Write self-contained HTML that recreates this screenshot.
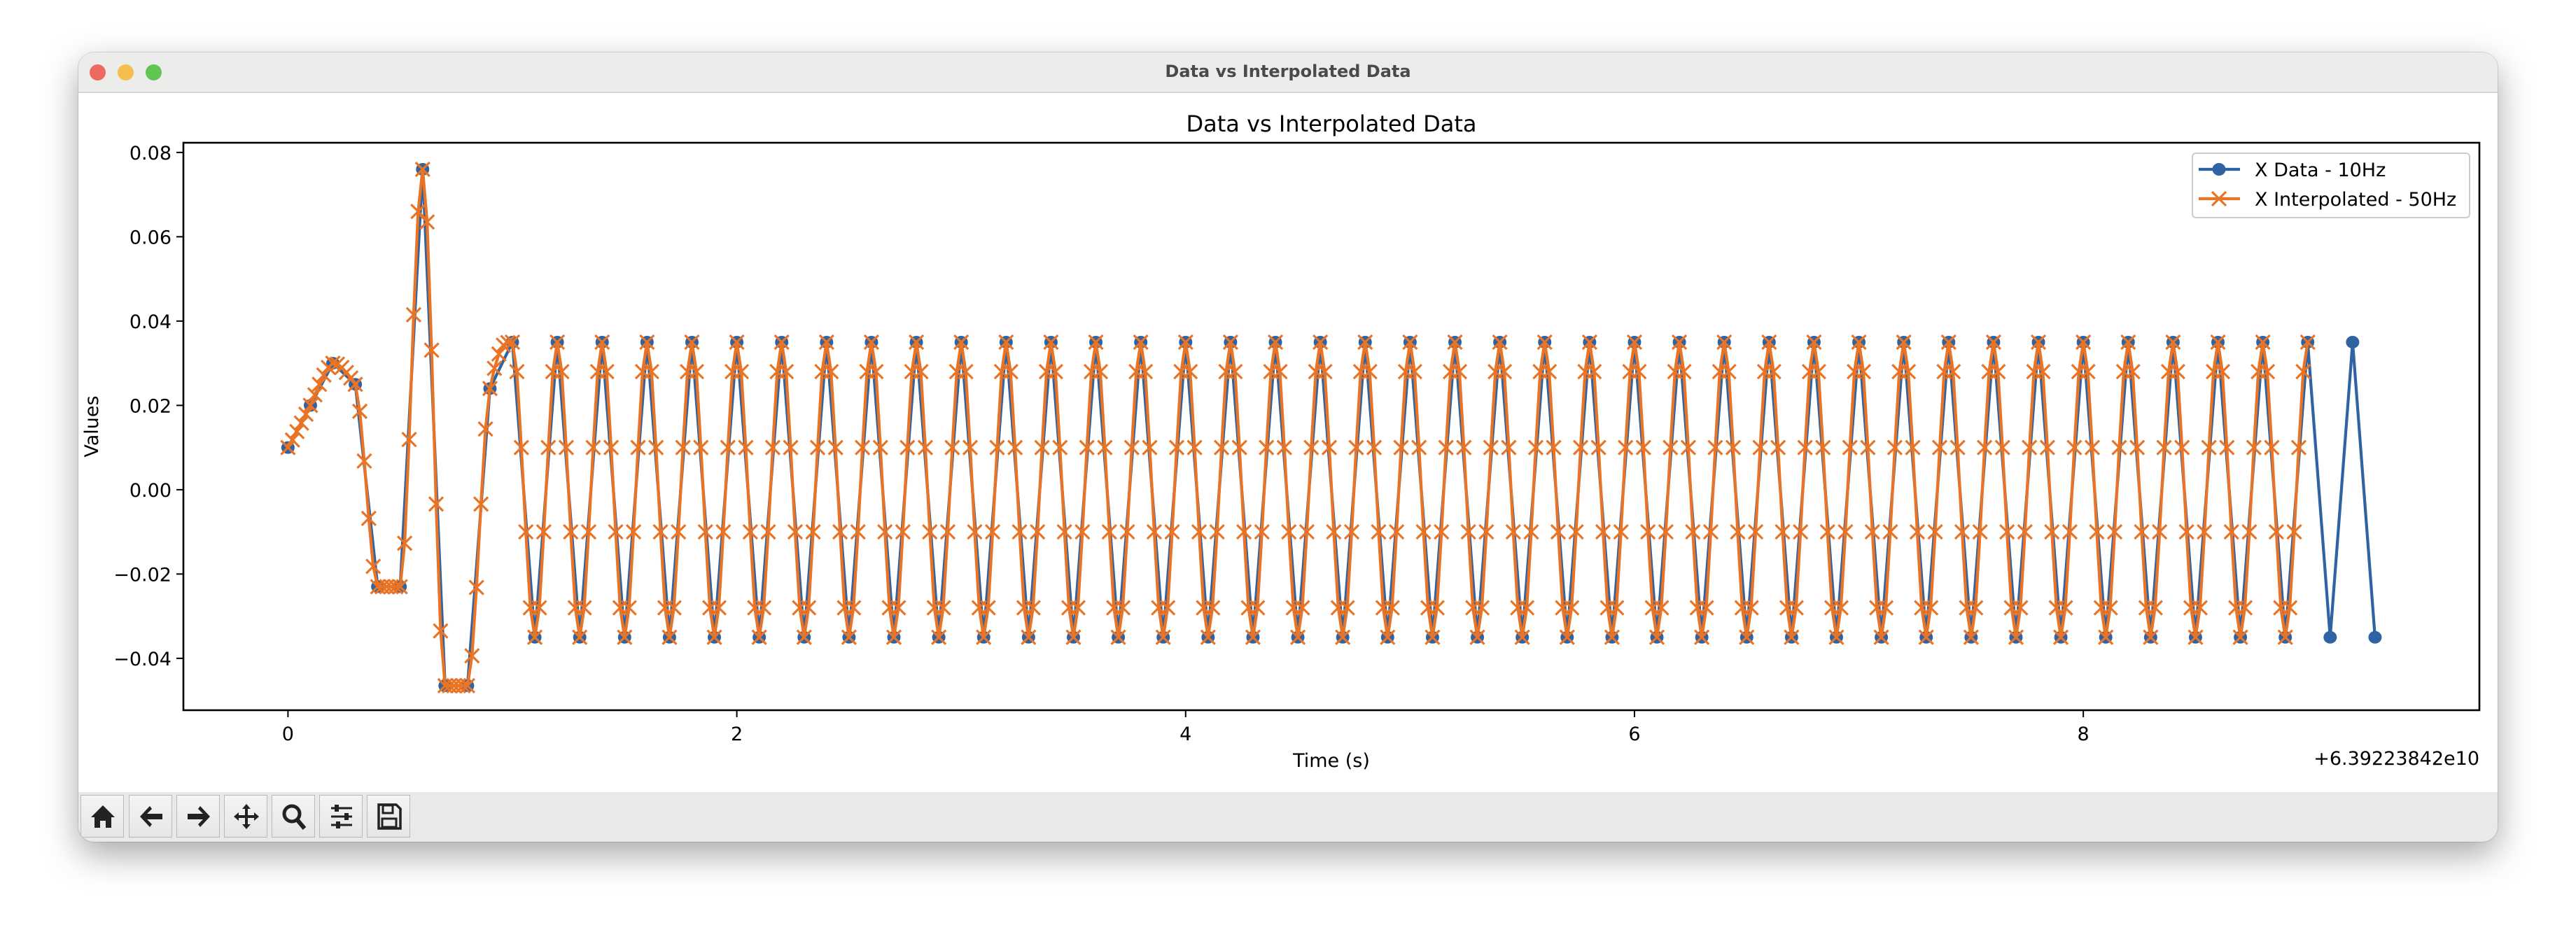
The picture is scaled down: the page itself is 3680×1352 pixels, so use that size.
<!DOCTYPE html>
<html><head><meta charset="utf-8">
<style>
html,body{margin:0;padding:0;width:3680px;height:1352px;background:#fff;overflow:hidden;font-family:"DejaVu Sans","Liberation Sans",sans-serif;}
#win{position:absolute;left:112px;top:75px;width:3456px;height:1128px;border-radius:22px;background:#fff;overflow:hidden;box-shadow:0 18px 50px rgba(0,0,0,0.35),0 0 0 1px rgba(0,0,0,0.12);}
#titlebar{position:absolute;left:0;top:0;width:100%;height:56px;background:#ececea;border-bottom:2px solid #d6d6d6;}
.light{position:absolute;top:17px;width:23px;height:23px;border-radius:50%;}
#wtitle{position:absolute;left:0;width:100%;top:13px;text-align:center;font:bold 24px "DejaVu Sans","Liberation Sans",sans-serif;color:#4a4a4a;}
#toolbar{position:absolute;left:0;top:1057px;width:100%;height:71px;background:#e9e9e7;}
.btn{position:absolute;top:4px;width:62px;height:61px;border:1px solid #b9b9b9;background:linear-gradient(#f4f4f4,#e6e6e6);box-sizing:border-box;}
.btn svg{position:absolute;left:11px;top:10px;}
svg text{font-family:"DejaVu Sans","Liberation Sans",sans-serif;}
</style></head><body>
<div id="win">
  <div id="titlebar">
    <div class="light" style="left:16px;background:#ec6a5e"></div>
    <div class="light" style="left:56px;background:#f4bf4f"></div>
    <div class="light" style="left:96px;background:#61c554"></div>
    <div id="wtitle">Data vs Interpolated Data</div>
  </div>
  <div id="toolbar">
    <div class="btn" style="left:3px"><svg width="40" height="40" viewBox="0 0 40 40"><path d="M20 4 L37 21 L32 21 L32 36 L24 36 L24 26 L16 26 L16 36 L8 36 L8 21 L3 21 Z" fill="#222"/></svg></div>
    <div class="btn" style="left:72px"><svg width="40" height="40" viewBox="0 0 40 40"><path d="M4 20 L18 5 L21 9 L14 16 L36 16 L36 24 L14 24 L21 31 L18 35 Z" fill="#222"/></svg></div>
    <div class="btn" style="left:140px"><svg width="40" height="40" viewBox="0 0 40 40"><path d="M36 20 L22 5 L19 9 L26 16 L4 16 L4 24 L26 24 L19 31 L22 35 Z" fill="#222"/></svg></div>
    <div class="btn" style="left:208px"><svg width="40" height="40" viewBox="0 0 40 40"><path d="M20 2 L26 9 L22 9 L22 18 L31 18 L31 14 L38 20 L31 26 L31 22 L22 22 L22 31 L26 31 L20 38 L14 31 L18 31 L18 22 L9 22 L9 26 L2 20 L9 14 L9 18 L18 18 L18 9 L14 9 Z" fill="#222"/></svg></div>
    <div class="btn" style="left:276px"><svg width="40" height="40" viewBox="0 0 40 40"><circle cx="17" cy="16" r="11" fill="none" stroke="#222" stroke-width="5"/><path d="M24 24 L35 37" stroke="#222" stroke-width="6"/></svg></div>
    <div class="btn" style="left:344px"><svg width="40" height="40" viewBox="0 0 40 40"><path d="M5 8H35M5 20H35M5 32H35" stroke="#222" stroke-width="3"/><rect x="10" y="3" width="6" height="10" fill="#222"/><rect x="24" y="15" width="6" height="10" fill="#222"/><rect x="12" y="27" width="6" height="10" fill="#222"/></svg></div>
    <div class="btn" style="left:412px"><svg width="40" height="40" viewBox="0 0 40 40"><path d="M5 3 H30 L36 9 V37 H5 Z" fill="none" stroke="#222" stroke-width="3.5"/><rect x="11" y="4" width="14" height="11" fill="none" stroke="#222" stroke-width="3"/><rect x="10" y="23" width="20" height="12" fill="none" stroke="#222" stroke-width="3"/></svg></div>
  </div>
</div>
<svg id="chart" width="3680" height="1352" style="position:absolute;left:0;top:0"></svg>
<script>
// 10 Hz data: transient section then a repeating +/- oscillation
const dataStart = 0, dataStep = 0.1;
const dataTransient = [0.010,0.020,0.030,0.025,-0.023,-0.023,0.076,-0.0465,-0.0465,0.024];
const dataCycle = [0.035,-0.035];
const dataCycleCount = 42;
// 50 Hz interpolated: transient section then one read period repeated
const interpStart = 0, interpStep = 0.02;
const interpTransient = [
0.0100,0.0118,0.0138,0.0158,0.0179,0.0200,0.0225,0.0250,0.0272,0.0290,
0.0300,0.0298,0.0290,0.0278,0.0265,0.0250,0.0186,0.0068,-0.0068,-0.0182,
-0.0230,-0.0230,-0.0230,-0.0230,-0.0230,-0.0230,-0.0127,0.0119,0.0415,0.0660,
0.0760,0.0635,0.0331,-0.0034,-0.0335,-0.0465,-0.0465,-0.0465,-0.0465,-0.0465,
-0.0465,-0.0394,-0.0232,-0.0034,0.0144,0.0240,0.0288,0.0322,0.0343,0.0349];
const interpCycle = [0.035,0.028,0.010,-0.010,-0.028,-0.035,-0.028,-0.010,0.010,0.028];
const interpCycleCount = 40;
const interpLast = [0.035];
const xTicks = [0,2,4,6,8];
const xTickLabels = ["0","2","4","6","8"];
const yTicks = [-0.04,-0.02,0,0.02,0.04,0.06,0.08];
const yTickLabels = ["\u22120.04","\u22120.02","0.00","0.02","0.04","0.06","0.08"];
const seriesNames = ["X Data - 10Hz","X Interpolated - 50Hz"];

const dataX = dataTransient.slice();
for(let k=0;k<dataCycleCount;k++) dataX.push(...dataCycle);
const interpX = interpTransient.slice();
for(let k=0;k<interpCycleCount;k++) interpX.push(...interpCycle);
interpX.push(...interpLast);

const NS="http://www.w3.org/2000/svg";
const svg=document.getElementById('chart');
const L=262,R=3542,T=204,B=1015;
const xmin=-0.466,xmax=9.765,ymin=-0.0523,ymax=0.0823;
const sx=v=>L+(v-xmin)/(xmax-xmin)*(R-L);
const sy=v=>B-(v-ymin)/(ymax-ymin)*(B-T);
const BLUE="#2f63a1",ORANGE="#ea7425";
function mk(tag,attrs,parent){const e=document.createElementNS(NS,tag);for(const k in attrs)e.setAttribute(k,attrs[k]);(parent||svg).appendChild(e);return e;}

const title=mk('text',{x:(L+R)/2,y:188,'text-anchor':'middle','font-size':32,fill:'#000'});
title.textContent="Data vs Interpolated Data";



mk('defs',{}).innerHTML='<clipPath id="clp"><rect x="'+L+'" y="'+T+'" width="'+(R-L)+'" height="'+(B-T)+'"/></clipPath>';

const gb=mk('g',{'clip-path':'url(#clp)'});


let d='';
dataX.forEach((v,i)=>{d+=(i?'L':'M')+sx(dataStart+i*dataStep).toFixed(1)+' '+sy(v).toFixed(1);});
mk('path',{d:d,fill:'none',stroke:BLUE,'stroke-width':4.2,'stroke-linejoin':'round'},gb);
dataX.forEach((v,i)=>{
  const c=mk('ellipse',{cx:sx(dataStart+i*dataStep),cy:sy(v),rx:9.5,ry:9,fill:BLUE},gb);
  
  
});

const go=mk('g',{'clip-path':'url(#clp)'});


d='';
interpX.forEach((v,i)=>{d+=(i?'L':'M')+sx(interpStart+i*interpStep).toFixed(1)+' '+sy(v).toFixed(1);});
mk('path',{d:d,fill:'none',stroke:ORANGE,'stroke-width':4.2,'stroke-linejoin':'round'},go);
interpX.forEach((v,i)=>{
  const x=sx(interpStart+i*interpStep),y=sy(v),s=10;
  const m=mk('path',{d:`M${x-s} ${y-s}L${x+s} ${y+s}M${x-s} ${y+s}L${x+s} ${y-s}`,stroke:ORANGE,'stroke-width':3.2},go);
  
  
});

const fr=mk('rect',{x:L,y:T,width:R-L,height:B-T,fill:'none',stroke:'#000','stroke-width':2.6});



xTicks.forEach((v,i)=>{
  const x=sx(v);
  mk('line',{x1:x,x2:x,y1:B,y2:B+10,stroke:'#000','stroke-width':2});
  const t=mk('text',{x:x,y:B+43,'text-anchor':'middle','font-size':27,fill:'#000'});
  t.textContent=xTickLabels[i];
  
  
});
yTicks.forEach((v,i)=>{
  const y=sy(v);
  mk('line',{x1:L-10,x2:L,y1:y,y2:y,stroke:'#000','stroke-width':2});
  const t=mk('text',{x:L-17,y:y+10,'text-anchor':'end','font-size':27,fill:'#000'});
  t.textContent=yTickLabels[i];
  
  
});
const xl=mk('text',{x:(L+R)/2,y:1096,'text-anchor':'middle','font-size':27,fill:'#000'});
xl.textContent="Time (s)";


const off=mk('text',{x:R,y:1093,'text-anchor':'end','font-size':27,fill:'#000'});
off.textContent="+6.39223842e10";


const yl=mk('text',{x:0,y:0,'text-anchor':'middle','font-size':27,fill:'#000',transform:`translate(140 ${(T+B)/2}) rotate(-90)`});
yl.textContent="Values";



const lg=mk('g',{});


mk('rect',{x:3132,y:219,width:396,height:92,rx:5,fill:'#fff','fill-opacity':0.8,stroke:'#cccccc','stroke-width':2},lg);
const rows=[[242,BLUE,'dot'],[284,ORANGE,'x']];
rows.forEach((r,i)=>{
  const e=mk('g',{},lg);
  
  
  mk('line',{x1:3141,x2:3200,y1:r[0],y2:r[0],stroke:r[1],'stroke-width':4.2},e);
  if(r[2]==='dot') mk('ellipse',{cx:3170,cy:r[0],rx:9.5,ry:9,fill:r[1]},e);
  else mk('path',{d:`M3160 ${r[0]-10}L3180 ${r[0]+10}M3160 ${r[0]+10}L3180 ${r[0]-10}`,stroke:r[1],'stroke-width':3.2},e);
  const t=mk('text',{x:3221,y:r[0]+10,'font-size':27,fill:'#000'},e);
  t.textContent=seriesNames[i];
});
</script>
</body></html>
